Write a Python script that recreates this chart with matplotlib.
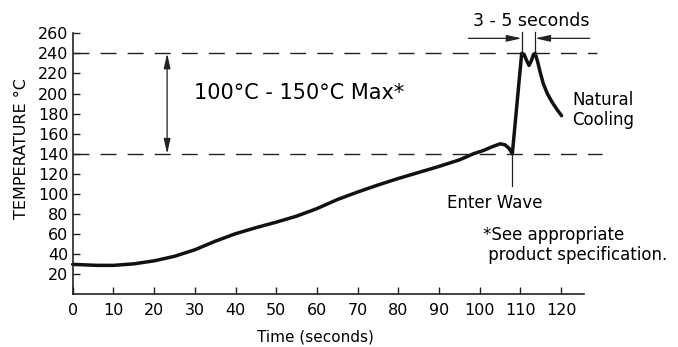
import numpy as np
import matplotlib
matplotlib.use('Agg')
import matplotlib.pyplot as plt

plt.rcParams['font.family'] = ['DejaVu Sans']

# ------------------------------------------------------------
# data (wave soldering profile)
# ------------------------------------------------------------
time_s = [0, 3, 6, 10, 15, 20, 25, 30, 35, 40, 45, 50, 55, 60, 65, 70, 75,
          80, 85, 90, 95, 98.4, 101, 103, 105, 106.2, 107.2, 108,
          110.3, 110.9, 111.5, 112.1, 112.7, 113.2, 113.6,
          114.2, 114.8, 115.6, 116.6, 117.7, 119, 120.1]
temp_c = [30, 29.5, 29, 29, 30.5, 33.5, 38, 44.5, 53, 60.5, 66.5, 72, 78,
          85.5, 94.5, 102, 109, 115.5, 121.5, 127.5, 134, 140, 143.5, 147,
          150, 149, 145.5, 140,
          240, 239, 233, 228, 233, 239, 240,
          232, 222, 210, 200, 192, 184, 178]

preheat_lo, preheat_hi = 140, 240   # dashed reference levels
wave_enter = 107.8                  # time the board enters the wave
dwell = [110.3, 113.6]              # 3 - 5 seconds window

xticks = list(range(0, 121, 10))
yticks = list(range(20, 261, 20))

# ------------------------------------------------------------
fig = plt.figure(figsize=(6.78, 3.47), dpi=100)
ax = fig.add_axes([0.1072, 0.1513, 0.7541, 0.7527])

ax.plot(time_s, temp_c, color='#111111', lw=2.5, solid_capstyle='round',
        solid_joinstyle='round', clip_on=False)

# dashed limits
for lvl, xend in [(preheat_hi, 128.8), (preheat_lo, 130)]:
    ax.plot([0, xend], [lvl, lvl], color='#222222', lw=1.0,
            dashes=(11.5, 8), clip_on=False)

arrow_kw = dict(arrowstyle='-|>,head_length=0.9,head_width=0.2',
                color='#222222', lw=0.9, shrinkA=0, shrinkB=0,
                mutation_scale=10)

# 100-150 double arrow
ax.annotate('', xy=(23.2, preheat_hi), xytext=(23.2, preheat_lo),
            arrowprops=dict(arrow_kw, arrowstyle='<|-|>,head_length=0.9,head_width=0.2'))
ax.text(29.8, 201, '100°C - 150°C Max*', fontsize=15, va='center', ha='left')

# 3 - 5 seconds
for t in dwell:
    ax.plot([t, t], [238, 261], color='#222222', lw=0.9, clip_on=False)
ax.annotate('', xy=(dwell[0], 255), xytext=(97.2, 255), arrowprops=arrow_kw,
            annotation_clip=False)
ax.annotate('', xy=(dwell[1], 255), xytext=(127, 255), arrowprops=arrow_kw,
            annotation_clip=False)
ax.text(112.6, 272, '3 - 5 seconds', fontsize=12.5, ha='center', va='center')

# enter wave
ax.plot([wave_enter, wave_enter], [139, 108], color='#222222', lw=0.9)
ax.text(103.8, 91, 'Enter Wave', fontsize=12, ha='center', va='center')

ax.text(130.3, 184, 'Natural\nCooling', fontsize=12, ha='center', va='center',
        linespacing=1.15)
ax.text(100.9, 49, '*See appropriate\n product specification.', fontsize=12,
        ha='left', va='center', linespacing=1.15)

# axes
ax.set_xlim(0, 125.6)
ax.set_ylim(0, 260)
ax.set_xticks(xticks)
ax.set_yticks(yticks)
ax.tick_params(direction='in', length=5, width=1.0, labelsize=11.5,
               color='#222222')
ax.tick_params(axis='x', pad=6)
ax.tick_params(axis='y', pad=3)
for s in ['top', 'right']:
    ax.spines[s].set_visible(False)
for s in ['left', 'bottom']:
    ax.spines[s].set_linewidth(1.2)
    ax.spines[s].set_color('#222222')

ax.set_ylabel('TEMPERATURE °C', fontsize=11.5, va='center')
ax.yaxis.set_label_coords(-0.1, 0.557)
ax.set_xlabel('Time (seconds)', fontsize=11, va='center')
ax.xaxis.set_label_coords(0.474, -0.164)

plt.savefig('out.png', dpi=100)
plt.close()
